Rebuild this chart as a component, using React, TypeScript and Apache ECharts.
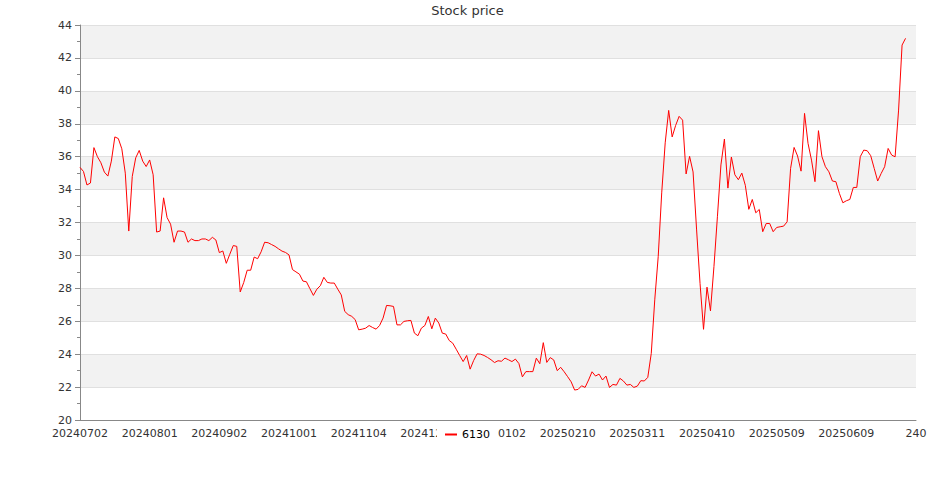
import React, { useEffect, useRef } from "react";
import * as echarts from "echarts";

const seriesName = "6130";

const dates: string[] = [
  "20240702","20240703","20240704","20240705","20240708","20240709","20240710","20240711","20240712","20240715",
  "20240716","20240717","20240718","20240719","20240722","20240723","20240726","20240729","20240730","20240731",
  "20240801","20240802","20240805","20240806","20240807","20240808","20240809","20240812","20240813","20240815",
  "20240816","20240819","20240820","20240821","20240822","20240823","20240826","20240827","20240829","20240830",
  "20240902","20240903","20240904","20240905","20240906","20240909","20240910","20240911","20240912","20240913",
  "20240916","20240918","20240919","20240920","20240923","20240924","20240925","20240926","20240927","20240930",
  "20241001","20241004","20241007","20241008","20241009","20241011","20241014","20241015","20241016","20241017",
  "20241018","20241021","20241022","20241023","20241024","20241025","20241028","20241029","20241030","20241101",
  "20241104","20241105","20241106","20241107","20241108","20241111","20241112","20241113","20241114","20241115",
  "20241118","20241119","20241120","20241121","20241122","20241125","20241126","20241127","20241128","20241129",
  "20241202","20241203","20241204","20241205","20241206","20241209","20241210","20241211","20241212","20241213",
  "20241216","20241217","20241218","20241219","20241220","20241223","20241226","20241227","20241230","20241231",
  "20250102","20250103","20250106","20250107","20250108","20250109","20250110","20250113","20250114","20250115",
  "20250116","20250117","20250120","20250121","20250122","20250203","20250204","20250205","20250206","20250207",
  "20250210","20250211","20250212","20250213","20250214","20250217","20250218","20250219","20250220","20250221",
  "20250224","20250225","20250226","20250227","20250303","20250304","20250305","20250306","20250307","20250310",
  "20250311","20250312","20250313","20250314","20250317","20250318","20250319","20250320","20250321","20250324",
  "20250325","20250326","20250327","20250328","20250331","20250401","20250402","20250407","20250408","20250409",
  "20250410","20250411","20250414","20250415","20250416","20250417","20250418","20250421","20250422","20250423",
  "20250424","20250425","20250428","20250429","20250430","20250502","20250505","20250506","20250507","20250508",
  "20250509","20250512","20250513","20250514","20250515","20250516","20250519","20250520","20250521","20250522",
  "20250523","20250526","20250527","20250528","20250529","20250602","20250603","20250604","20250605","20250606",
  "20250609","20250610","20250611","20250612","20250613","20250616","20250617","20250618","20250619","20250620",
  "20250623","20250624","20250625","20250626","20250627","20250630","20250701","20250702",
];

const prices: number[] = [
  35.35, 35.1, 34.28, 34.4, 36.55, 36.0, 35.63, 35.06, 34.82, 35.73,
  37.2, 37.1, 36.48, 35.0, 31.48, 34.8, 35.93, 36.38, 35.73, 35.4,
  35.8, 34.9, 31.42, 31.48, 33.5, 32.3, 31.9, 30.8, 31.48, 31.48,
  31.42, 30.8, 31.0, 30.9, 30.9, 31.0, 31.0, 30.9, 31.1, 30.94,
  30.17, 30.27, 29.52, 30.07, 30.6, 30.55, 27.78, 28.35, 29.1, 29.1,
  29.9, 29.8, 30.22, 30.8, 30.77, 30.66, 30.55, 30.4, 30.26, 30.18,
  30.03, 29.14, 29.0, 28.86, 28.44, 28.4, 27.98, 27.57, 27.95, 28.16,
  28.67, 28.36, 28.32, 28.32, 27.95, 27.6, 26.6, 26.4, 26.3, 26.1,
  25.48, 25.52, 25.58, 25.74, 25.62, 25.52, 25.74, 26.19, 26.96, 26.94,
  26.9, 25.78, 25.78, 25.99, 26.03, 26.05, 25.28, 25.12, 25.58, 25.74,
  26.29, 25.54, 26.19, 25.89, 25.28, 25.22, 24.83, 24.67, 24.3, 23.92,
  23.55, 23.92, 23.09, 23.61, 24.02, 24.0, 23.92, 23.8, 23.66, 23.49,
  23.6, 23.57, 23.76, 23.66, 23.55, 23.7, 23.43, 22.62, 22.94, 22.94,
  22.94, 23.76, 23.42, 24.7, 23.5, 23.79, 23.65, 23.0, 23.2, 22.93,
  22.63, 22.32, 21.82, 21.86, 22.08, 21.98, 22.43, 22.93, 22.67, 22.79,
  22.43, 22.67, 21.98, 22.16, 22.12, 22.53, 22.37, 22.12, 22.16, 21.98,
  22.06, 22.39, 22.37, 22.59, 24.05, 27.3, 29.94, 33.8, 36.84, 38.81,
  37.2, 37.9, 38.45, 38.22, 34.95, 36.02, 35.07, 31.6, 28.3, 25.51,
  28.07, 26.63, 29.33, 32.38, 35.5, 37.07, 34.09, 35.98, 34.9, 34.6,
  35.0, 34.26, 32.8, 33.4, 32.59, 32.79, 31.44, 31.94, 31.94, 31.44,
  31.7, 31.74, 31.78, 32.04, 35.29, 36.56, 36.04, 35.12, 38.63, 36.81,
  35.79, 34.48, 37.58, 36.0, 35.39, 35.08, 34.52, 34.48, 33.77, 33.2,
  33.32, 33.4, 34.13, 34.13, 36.0, 36.4, 36.36, 36.06, 35.29, 34.52,
  34.98, 35.39, 36.5, 36.1, 35.99, 38.83, 42.78, 43.19,
];

const FONT = "DejaVu Sans";

export default function App() {
  const ref = useRef<HTMLDivElement>(null);
  useEffect(() => {
    if (!ref.current) return;
    const chart = echarts.init(ref.current, null, { renderer: "svg" });
    chart.setOption({
      animation: false,
      backgroundColor: "#ffffff",
      textStyle: { fontFamily: FONT },
      title: {
        text: "Stock price",
        left: "center",
        top: 4,
        padding: 0,
        textStyle: { fontSize: 13, fontWeight: "normal", color: "#333", fontFamily: FONT },
      },
      legend: {
        data: [{ name: seriesName, icon: "rect" }],
        left: "center",
        top: 425,
        padding: [4, 8],
        itemWidth: 12,
        itemHeight: 2,
        backgroundColor: "#ffffff",
        textStyle: { fontSize: 11, color: "#000", fontFamily: FONT },
      },
      grid: { left: 80, right: 19, top: 25, bottom: 80, containLabel: false },
      xAxis: {
        type: "value",
        min: 0,
        max: 240,
        interval: 20,
        axisLine: { show: true, lineStyle: { color: "#888" } },
        axisTick: { show: false },
        splitLine: { show: false },
        axisLabel: {
          color: "#333",
          fontSize: 11,
          fontFamily: FONT,
          margin: 8,
          formatter: (v: number) => (dates[v] !== undefined ? dates[v] : String(v)),
        },
      },
      yAxis: {
        type: "value",
        min: 20,
        max: 44,
        interval: 2,
        axisLine: { show: true, lineStyle: { color: "#888" } },
        axisTick: { show: true, length: 5, lineStyle: { color: "#888" } },
        minorTick: { show: true, splitNumber: 2, length: 3, lineStyle: { color: "#888" } },
        splitLine: { show: true, lineStyle: { color: "#e0e0e0" } },
        splitArea: { show: true, areaStyle: { color: ["#ffffff", "#f2f2f2"] } },
        axisLabel: { color: "#333", fontSize: 11, fontFamily: FONT, margin: 8 },
      },
      series: [
        {
          name: seriesName,
          type: "line",
          data: prices.map((p, i) => [i, p]),
          showSymbol: false,
          symbol: "none",
          lineStyle: { color: "#ff0000", width: 1 },
          itemStyle: { color: "#ff0000" },
        },
      ],
    });
    return () => chart.dispose();
  }, []);
  return (
    <div
      ref={ref}
      style={{ position: "fixed", left: 0, top: 0, width: 935, height: 500 }}
    />
  );
}
